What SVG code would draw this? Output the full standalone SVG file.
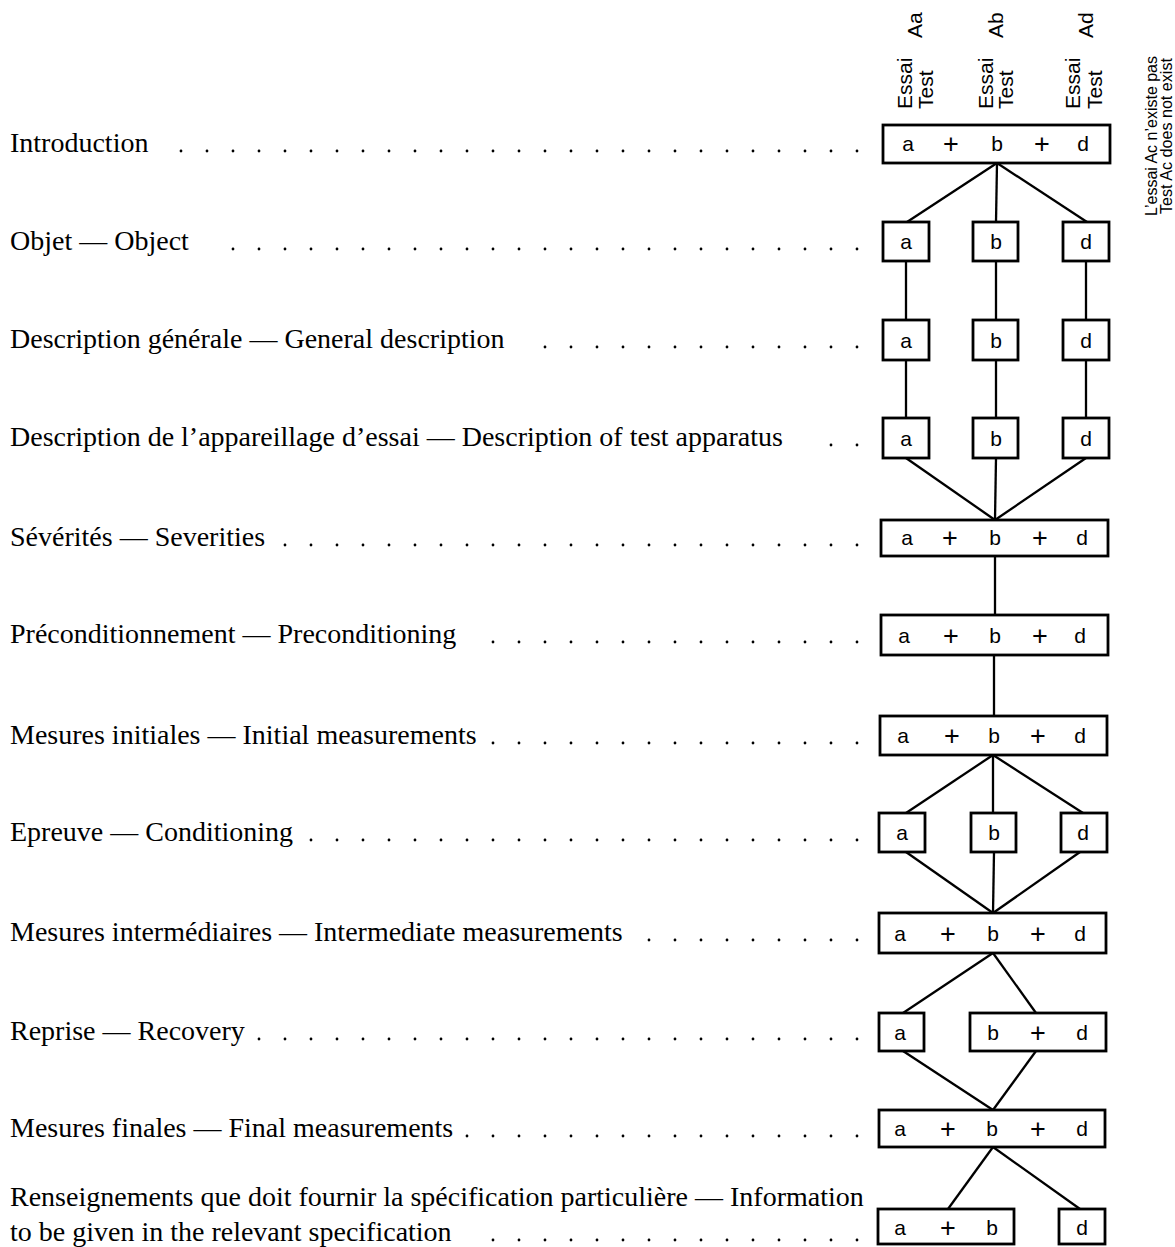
<svg xmlns="http://www.w3.org/2000/svg" width="1175" height="1247" viewBox="0 0 1175 1247">
<style>
.lbl{font-family:"Liberation Serif","Times New Roman",serif;font-size:28px;fill:#000}
.box{fill:#fff;stroke:#000;stroke-width:2.8}
.t{font-family:"Liberation Sans",Arial,sans-serif;font-size:21px;text-anchor:middle;fill:#000}
.p{font-family:"Liberation Sans",Arial,sans-serif;font-size:27px;text-anchor:middle;fill:#000}
.hd{font-family:"Liberation Sans",Arial,sans-serif;font-size:21px;fill:#000}
.hd2{font-family:"Liberation Sans",Arial,sans-serif;font-size:17px;fill:#000}
.dots{stroke:#000;stroke-width:2.8;stroke-linecap:round;stroke-dasharray:0 26;fill:none}
.conn line{stroke:#000;stroke-width:2.3}
</style>
<rect width="1175" height="1247" fill="#fff"/>

<g id="labels">
<text class="lbl" x="10" y="152">Introduction</text>
<text class="lbl" x="10" y="250">Objet — Object</text>
<text class="lbl" x="10" y="348">Description générale — General description</text>
<text class="lbl" x="10" y="446">Description de l’appareillage d’essai — Description of test apparatus</text>
<text class="lbl" x="10" y="546">Sévérités — Severities</text>
<text class="lbl" x="10" y="643">Préconditionnement — Preconditioning</text>
<text class="lbl" x="10" y="744">Mesures initiales — Initial measurements</text>
<text class="lbl" x="10" y="841">Epreuve — Conditioning</text>
<text class="lbl" x="10" y="941">Mesures intermédiaires — Intermediate measurements</text>
<text class="lbl" x="10" y="1040">Reprise — Recovery</text>
<text class="lbl" x="10" y="1137">Mesures finales — Final measurements</text>
<text class="lbl" x="10" y="1206">Renseignements que doit fournir la spécification particulière — Information</text>
<text class="lbl" x="10" y="1241">to be given in the relevant specification</text>
</g>

<g id="leaders">
<line class="dots" x1="857" y1="151" x2="180" y2="151"/>
<line class="dots" x1="857" y1="249" x2="232" y2="249"/>
<line class="dots" x1="857" y1="347" x2="544" y2="347"/>
<line class="dots" x1="857" y1="445" x2="830" y2="445"/>
<line class="dots" x1="857" y1="545" x2="284" y2="545"/>
<line class="dots" x1="857" y1="642" x2="492" y2="642"/>
<line class="dots" x1="857" y1="743" x2="492" y2="743"/>
<line class="dots" x1="857" y1="840" x2="310" y2="840"/>
<line class="dots" x1="857" y1="940" x2="648" y2="940"/>
<line class="dots" x1="857" y1="1039" x2="258" y2="1039"/>
<line class="dots" x1="857" y1="1136" x2="466" y2="1136"/>
<line class="dots" x1="857" y1="1240" x2="492" y2="1240"/>
</g>

<g id="header">
<text class="hd" transform="translate(912,109) rotate(-90)">Essai</text>
<text class="hd" transform="translate(933,109) rotate(-90)">Test</text>
<text class="hd" transform="translate(922,38) rotate(-90)">Aa</text>
<text class="hd" transform="translate(993,109) rotate(-90)">Essai</text>
<text class="hd" transform="translate(1013,109) rotate(-90)">Test</text>
<text class="hd" transform="translate(1003,38) rotate(-90)">Ab</text>
<text class="hd" transform="translate(1080,109) rotate(-90)">Essai</text>
<text class="hd" transform="translate(1102,109) rotate(-90)">Test</text>
<text class="hd" transform="translate(1093,38) rotate(-90)">Ad</text>
<text class="hd2" transform="translate(1157,216) rotate(-90)" textLength="160" lengthAdjust="spacingAndGlyphs">L’essai Ac n’existe pas</text>
<text class="hd2" transform="translate(1172,214) rotate(-90)" textLength="156" lengthAdjust="spacingAndGlyphs">Test Ac does not exist</text>
</g>

<g id="connectors" class="conn">
<line x1="997" y1="163" x2="907" y2="222"/>
<line x1="997" y1="163" x2="996" y2="222"/>
<line x1="997" y1="163" x2="1087" y2="222"/>
<line x1="906" y1="261" x2="906" y2="320"/>
<line x1="996" y1="261" x2="996" y2="320"/>
<line x1="1086" y1="261" x2="1086" y2="320"/>
<line x1="906" y1="360" x2="906" y2="418"/>
<line x1="996" y1="360" x2="996" y2="418"/>
<line x1="1086" y1="360" x2="1086" y2="418"/>
<line x1="906" y1="458" x2="995" y2="520"/>
<line x1="996" y1="458" x2="995" y2="520"/>
<line x1="1086" y1="458" x2="995" y2="520"/>
<line x1="995" y1="556" x2="995" y2="615"/>
<line x1="994" y1="655" x2="994" y2="716"/>
<line x1="993" y1="755" x2="906" y2="813"/>
<line x1="993" y1="755" x2="993" y2="813"/>
<line x1="993" y1="755" x2="1083" y2="813"/>
<line x1="906" y1="852" x2="993" y2="913"/>
<line x1="994" y1="852" x2="993" y2="913"/>
<line x1="1080" y1="852" x2="993" y2="913"/>
<line x1="993" y1="953" x2="903" y2="1013"/>
<line x1="993" y1="953" x2="1036" y2="1013"/>
<line x1="903" y1="1051" x2="993" y2="1110"/>
<line x1="1036" y1="1051" x2="993" y2="1110"/>
<line x1="993" y1="1147" x2="948" y2="1209"/>
<line x1="993" y1="1147" x2="1080" y2="1209"/>
</g>

<g id="n1"><rect class="box" x="883" y="125" width="227" height="38"/>
<text class="t" x="908" y="151">a</text><text class="p" x="951" y="153">+</text><text class="t" x="997" y="151">b</text><text class="p" x="1042" y="153">+</text><text class="t" x="1083" y="151">d</text></g>

<g id="n2a"><rect class="box" x="883" y="222" width="46" height="39"/><text class="t" x="906" y="249">a</text></g>
<g id="n2b"><rect class="box" x="973" y="222" width="45" height="39"/><text class="t" x="996" y="249">b</text></g>
<g id="n2d"><rect class="box" x="1063" y="222" width="46" height="39"/><text class="t" x="1086" y="249">d</text></g>

<g id="n3a"><rect class="box" x="883" y="320" width="46" height="40"/><text class="t" x="906" y="348">a</text></g>
<g id="n3b"><rect class="box" x="973" y="320" width="45" height="40"/><text class="t" x="996" y="348">b</text></g>
<g id="n3d"><rect class="box" x="1063" y="320" width="46" height="40"/><text class="t" x="1086" y="348">d</text></g>

<g id="n4a"><rect class="box" x="883" y="418" width="46" height="40"/><text class="t" x="906" y="446">a</text></g>
<g id="n4b"><rect class="box" x="973" y="418" width="45" height="40"/><text class="t" x="996" y="446">b</text></g>
<g id="n4d"><rect class="box" x="1063" y="418" width="46" height="40"/><text class="t" x="1086" y="446">d</text></g>

<g id="n5"><rect class="box" x="881" y="520" width="227" height="36"/>
<text class="t" x="907" y="545">a</text><text class="p" x="950" y="547">+</text><text class="t" x="995" y="545">b</text><text class="p" x="1040" y="547">+</text><text class="t" x="1082" y="545">d</text></g>

<g id="n6"><rect class="box" x="881" y="615" width="227" height="40"/>
<text class="t" x="904" y="643">a</text><text class="p" x="951" y="645">+</text><text class="t" x="995" y="643">b</text><text class="p" x="1040" y="645">+</text><text class="t" x="1080" y="643">d</text></g>

<g id="n7"><rect class="box" x="880" y="716" width="227" height="39"/>
<text class="t" x="903" y="743">a</text><text class="p" x="952" y="745">+</text><text class="t" x="994" y="743">b</text><text class="p" x="1038" y="745">+</text><text class="t" x="1080" y="743">d</text></g>

<g id="n8a"><rect class="box" x="879" y="813" width="46" height="39"/><text class="t" x="902" y="840">a</text></g>
<g id="n8b"><rect class="box" x="971" y="813" width="45" height="39"/><text class="t" x="994" y="840">b</text></g>
<g id="n8d"><rect class="box" x="1061" y="813" width="46" height="39"/><text class="t" x="1083" y="840">d</text></g>

<g id="n9"><rect class="box" x="879" y="913" width="227" height="40"/>
<text class="t" x="900" y="941">a</text><text class="p" x="948" y="943">+</text><text class="t" x="993" y="941">b</text><text class="p" x="1038" y="943">+</text><text class="t" x="1080" y="941">d</text></g>

<g id="n10a"><rect class="box" x="879" y="1013" width="45" height="38"/><text class="t" x="900" y="1040">a</text></g>
<g id="n10bd"><rect class="box" x="970" y="1013" width="136" height="38"/>
<text class="t" x="993" y="1040">b</text><text class="p" x="1038" y="1042">+</text><text class="t" x="1082" y="1040">d</text></g>

<g id="n11"><rect class="box" x="879" y="1110" width="226" height="37"/>
<text class="t" x="900" y="1136">a</text><text class="p" x="948" y="1138">+</text><text class="t" x="992" y="1136">b</text><text class="p" x="1038" y="1138">+</text><text class="t" x="1082" y="1136">d</text></g>

<g id="n12ab"><rect class="box" x="878" y="1209" width="136" height="35"/>
<text class="t" x="900" y="1235">a</text><text class="p" x="948" y="1237">+</text><text class="t" x="992" y="1235">b</text></g>
<g id="n12d"><rect class="box" x="1059" y="1209" width="46" height="35"/><text class="t" x="1082" y="1235">d</text></g>
</svg>
